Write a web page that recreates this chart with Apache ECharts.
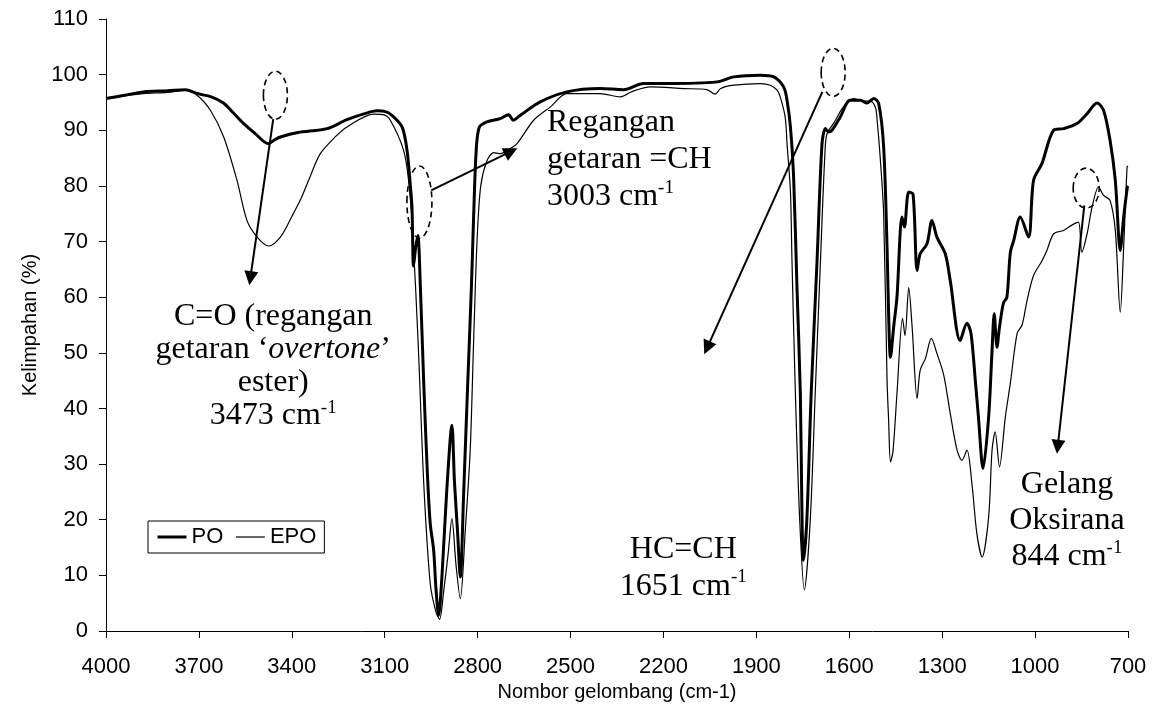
<!DOCTYPE html>
<html>
<head>
<meta charset="utf-8">
<script src="https://cdn.jsdelivr.net/npm/echarts@6/dist/echarts.min.js"></script>
<style>
  html, body { margin: 0; padding: 0; background: #fff; }
  #main { width: 1154px; height: 721px; }
</style>
</head>
<body>
<div id="main"></div>
<script>
// wavenumber (cm-1) and transmittance (%)
const waveNumbersPO = [
  4000, 3940, 3879, 3800, 3744, 3706, 3660, 3621, 3590, 3557,
  3520, 3476, 3455, 3437, 3380, 3286, 3222, 3170, 3125, 3100,
  3077, 3044, 3028, 3018, 3012, 3007, 3000, 2993, 2985, 2974,
  2962, 2953, 2942, 2935, 2926, 2915, 2900, 2883, 2875, 2865,
  2856, 2845, 2832, 2820, 2813, 2805, 2795, 2770, 2727, 2700,
  2685, 2662, 2598, 2512, 2404, 2329, 2264, 2189, 2027, 1973,
  1887, 1844, 1812, 1801, 1790, 1780, 1769, 1758, 1753, 1748,
  1737, 1723, 1704, 1688, 1677, 1667, 1656, 1629, 1597, 1564,
  1543, 1521, 1505, 1489, 1478, 1473, 1467, 1456, 1446, 1430,
  1422, 1408, 1394, 1381, 1371, 1349, 1333, 1317, 1290, 1274,
  1242, 1220, 1207, 1193, 1183, 1168, 1150, 1139, 1132, 1123,
  1115, 1102, 1091, 1080, 1069, 1048, 1021, 1005, 978, 940,
  908, 865, 832, 800, 779, 758, 741, 725, 714, 702,
  700
];
const transmittancePO = [
  95.7, 96.3, 96.9, 97.1, 97.3, 96.6, 96.0, 94.9, 93.2, 91.3,
  89.5, 87.6, 88.3, 88.8, 89.6, 90.3, 91.9, 92.9, 93.5, 93.4,
  92.7, 90.6, 86.4, 80.5, 76.2, 65.6, 69.0, 71.1, 62.0, 44.5,
  28.0, 19.3, 14.5, 8.0, 2.8, 10.0, 25.0, 37.0, 27.0, 18.0,
  9.7, 25.0, 44.5, 62.0, 74.4, 86.0, 90.5, 91.5, 92.1, 92.8,
  91.8, 92.7, 95.1, 96.9, 97.5, 97.3, 98.4, 98.4, 98.7, 99.6,
  99.9, 99.6, 97.8, 95.4, 90.6, 82.0, 62.0, 42.7, 22.0, 12.7,
  20.0, 42.7, 66.6, 87.6, 90.3, 89.7, 90.0, 92.4, 95.4, 95.4,
  94.9, 95.7, 94.8, 87.0, 69.0, 57.1, 49.2, 55.0, 60.0, 74.4,
  72.6, 78.9, 78.5, 64.8, 67.8, 69.6, 73.8, 70.8, 67.8, 63.0,
  52.2, 55.3, 53.5, 45.0, 38.5, 29.2, 38.5, 50.4, 57.0, 51.0,
  54.6, 59.0, 60.0, 68.0, 70.2, 74.4, 70.8, 81.0, 84.0, 90.0,
  90.3, 91.2, 93.0, 94.9, 93.6, 88.2, 81.0, 68.4, 74.4, 79.8,
  80.0
];

const waveNumbersEPO = [
  4000, 3940, 3879, 3800, 3744, 3706, 3663, 3620, 3577, 3545,
  3512, 3475, 3437, 3400, 3373, 3340, 3308, 3260, 3222, 3136,
  3105, 3082, 3039, 3023, 3010, 2991, 2974, 2953, 2935, 2923,
  2910, 2895, 2883, 2870, 2856, 2840, 2824, 2813, 2802, 2790,
  2770, 2748, 2727, 2700, 2673, 2619, 2565, 2512, 2404, 2339,
  2300, 2243, 2135, 2060, 2033, 2015, 1973, 1887, 1855, 1833,
  1823, 1807, 1801, 1790, 1785, 1774, 1760, 1745, 1726, 1710,
  1693, 1677, 1670, 1651, 1619, 1586, 1560, 1530, 1515, 1510,
  1500, 1489, 1478, 1473, 1467, 1459, 1446, 1428, 1420, 1408,
  1397, 1381, 1371, 1354, 1335, 1317, 1295, 1274, 1252, 1236,
  1220, 1204, 1188, 1171, 1150, 1139, 1129, 1115, 1096, 1080,
  1058, 1042, 1026, 1005, 978, 962, 940, 908, 880, 860,
  849, 832, 816, 795, 779, 758, 741, 725, 714, 703,
  700
];
const transmittanceEPO = [
  95.7, 96.2, 96.6, 96.8, 97.2, 96.3, 93.6, 88.8, 81.0, 73.8,
  70.8, 69.2, 70.8, 74.5, 77.4, 81.8, 85.8, 88.8, 90.6, 92.9,
  92.8, 91.8, 86.4, 81.0, 72.0, 50.4, 26.5, 8.5, 3.5, 2.1,
  7.0, 14.0, 20.2, 12.0, 5.8, 18.0, 32.5, 52.0, 70.0, 80.0,
  84.5, 86.0, 85.8, 86.5, 87.6, 91.8, 94.2, 96.6, 96.6, 96.0,
  97.0, 97.8, 97.5, 97.3, 96.5, 97.5, 98.1, 98.4, 98.1, 97.2,
  96.0, 92.4, 87.6, 79.0, 66.6, 42.7, 19.9, 7.4, 19.9, 42.7,
  66.6, 87.6, 89.7, 91.2, 94.2, 95.7, 95.3, 95.2, 94.0, 91.8,
  85.0, 75.0, 45.0, 38.0, 30.4, 32.2, 42.7, 56.2, 53.1, 61.7,
  54.6, 41.8, 46.9, 49.0, 52.6, 49.9, 46.0, 39.1, 32.5, 30.7,
  32.5, 26.5, 17.5, 13.3, 20.5, 32.5, 35.8, 29.5, 38.5, 44.5,
  53.5, 55.0, 59.4, 63.9, 66.5, 68.4, 71.4, 72.0, 73.0, 73.5,
  68.1, 71.4, 76.2, 79.8, 78.3, 77.4, 72.0, 57.3, 69.0, 83.4,
  83.6
];

const seriesNames = ['PO', 'EPO'];
const seriesWidths = [3, 1.2];

// annotation arrows: [fromWave, fromValue, toWave, toValue]
const annotationArrows = [
  [3460, 92.0, 3534, 63.4],
  [2950, 79.2, 2692, 86.2],
  [1687, 96.9, 2059, 50.9],
  [841, 76.5, 927, 33.1]
];
// dashed rings marking the peaks: [wave, value]
const annotationRings = [
  [3453, 96.3],
  [2988, 77.1],
  [1652, 100.4],
  [835, 79.6]
];
// annotation labels: [wave, value (top of block), text]
const annotationLabels = [
  [3460, 59.5, 'C=O (regangan\ngetaran ‘{i|overtone}’\nester)\n3473 cm{s|-1}'],
  [2576, 94.7, 'Regangan\ngetaran =CH\n3003 cm{s|-1}'],
  [2136, 18.0, 'HC=CH\n1651 cm{s|-1}'],
  [897, 29.6, 'Gelang\nOksirana\n844 cm{s|-1}']
];

const sans = '"Liberation Sans", Arial, sans-serif';
const serif = '"Liberation Serif", "Times New Roman", serif';

function zip(xs, ys) {
  return xs.map((x, i) => [x, ys[i]]);
}

const chart = echarts.init(document.getElementById('main'));

const option = {
  animation: false,
  backgroundColor: '#fff',
  grid: { left: 106, right: 26, top: 19, bottom: 90 },
  legend: {
    data: seriesNames.map((n, i) => ({ name: n, lineStyle: { width: seriesWidths[i], color: '#000' } })),
    left: 148,
    top: 521,
    itemWidth: 29,
    itemHeight: 14,
    itemGap: 12,
    padding: [5, 8, 5, 8],
    borderColor: '#000',
    borderWidth: 1,
    borderRadius: 0,
    itemStyle: { opacity: 0 },
    textStyle: { fontFamily: sans, fontSize: 22, color: '#000' }
  },
  xAxis: {
    type: 'value',
    inverse: true,
    min: 700,
    max: 4000,
    interval: 300,
    name: 'Nombor gelombang (cm-1)',
    nameLocation: 'middle',
    nameGap: 49,
    nameTextStyle: { fontFamily: sans, fontSize: 20, color: '#000' },
    axisLine: { show: true, onZero: false, lineStyle: { color: '#000', width: 1 } },
    axisTick: { show: true, length: 7, lineStyle: { color: '#000' } },
    axisLabel: {
      fontFamily: sans, fontSize: 22, color: '#000', margin: 25,
      formatter: v => String(v)
    },
    splitLine: { show: false }
  },
  yAxis: {
    type: 'value',
    min: 0,
    max: 110,
    interval: 10,
    name: 'Kelimpahan (%)',
    nameLocation: 'middle',
    nameGap: 66,
    nameRotate: 90,
    nameTextStyle: { fontFamily: sans, fontSize: 20, color: '#000' },
    axisLine: { show: true, onZero: false, lineStyle: { color: '#000', width: 1 } },
    axisTick: { show: true, length: 7, lineStyle: { color: '#000' } },
    axisLabel: { fontFamily: sans, fontSize: 22, color: '#000', margin: 18 },
    splitLine: { show: false }
  },
  series: [
    {
      name: 'EPO',
      type: 'line',
      data: zip(waveNumbersEPO, transmittanceEPO),
      symbol: 'none',
      smooth: 0.3,
      silent: true,
      lineStyle: { color: '#000', width: seriesWidths[1] },
      itemStyle: { color: '#000' },
      z: 2
    },
    {
      name: 'PO',
      type: 'line',
      data: zip(waveNumbersPO, transmittancePO),
      symbol: 'none',
      smooth: 0.3,
      silent: true,
      lineStyle: { color: '#000', width: seriesWidths[0] },
      itemStyle: { color: '#000' },
      z: 3,
      markLine: {
        silent: true,
        animation: false,
        symbol: ['none', 'triangle'],
        symbolSize: 14,
        label: { show: false },
        emphasis: { disabled: true },
        lineStyle: { color: '#000', width: 2, type: 'solid' },
        data: annotationArrows.map(a => [{ coord: [a[0], a[1]] }, { coord: [a[2], a[3]] }])
      }
    }
  ]
};

chart.setOption(option);

// rings and text placed through the chart's own scales
const toPx = (w, v) => chart.convertToPixel({ xAxisIndex: 0, yAxisIndex: 0 }, [w, v]);
const ringSizes = [[12, 24], [12.5, 36], [12, 24], [13, 20]];
const labelAligns = ['center', 'left', 'center', 'center'];
const labelLineHeights = [33, 37, 37, 36];

const graphics = [];
annotationRings.forEach((r, i) => {
  const p = toPx(r[0], r[1]);
  graphics.push({
    type: 'ellipse',
    silent: true,
    z: 10,
    shape: { cx: p[0], cy: p[1], rx: ringSizes[i][0], ry: ringSizes[i][1] },
    style: { fill: 'none', stroke: '#000', lineWidth: 1.6, lineDash: [6, 4] }
  });
});
annotationLabels.forEach((l, i) => {
  const p = toPx(l[0], l[1]);
  const lh = labelLineHeights[i];
  graphics.push({
    type: 'text',
    silent: true,
    z: 10,
    x: p[0],
    y: p[1],
    style: {
      text: l[2],
      align: labelAligns[i],
      verticalAlign: 'top',
      fontFamily: serif,
      fontSize: 32,
      lineHeight: lh,
      fill: '#000',
      rich: {
        i: { fontFamily: serif, fontSize: 32, fontStyle: 'italic', lineHeight: lh, fill: '#000' },
        s: { fontFamily: serif, fontSize: 19, lineHeight: 19, verticalAlign: 'top', fill: '#000' }
      }
    }
  });
});
chart.setOption({ graphic: graphics });
</script>
</body>
</html>
